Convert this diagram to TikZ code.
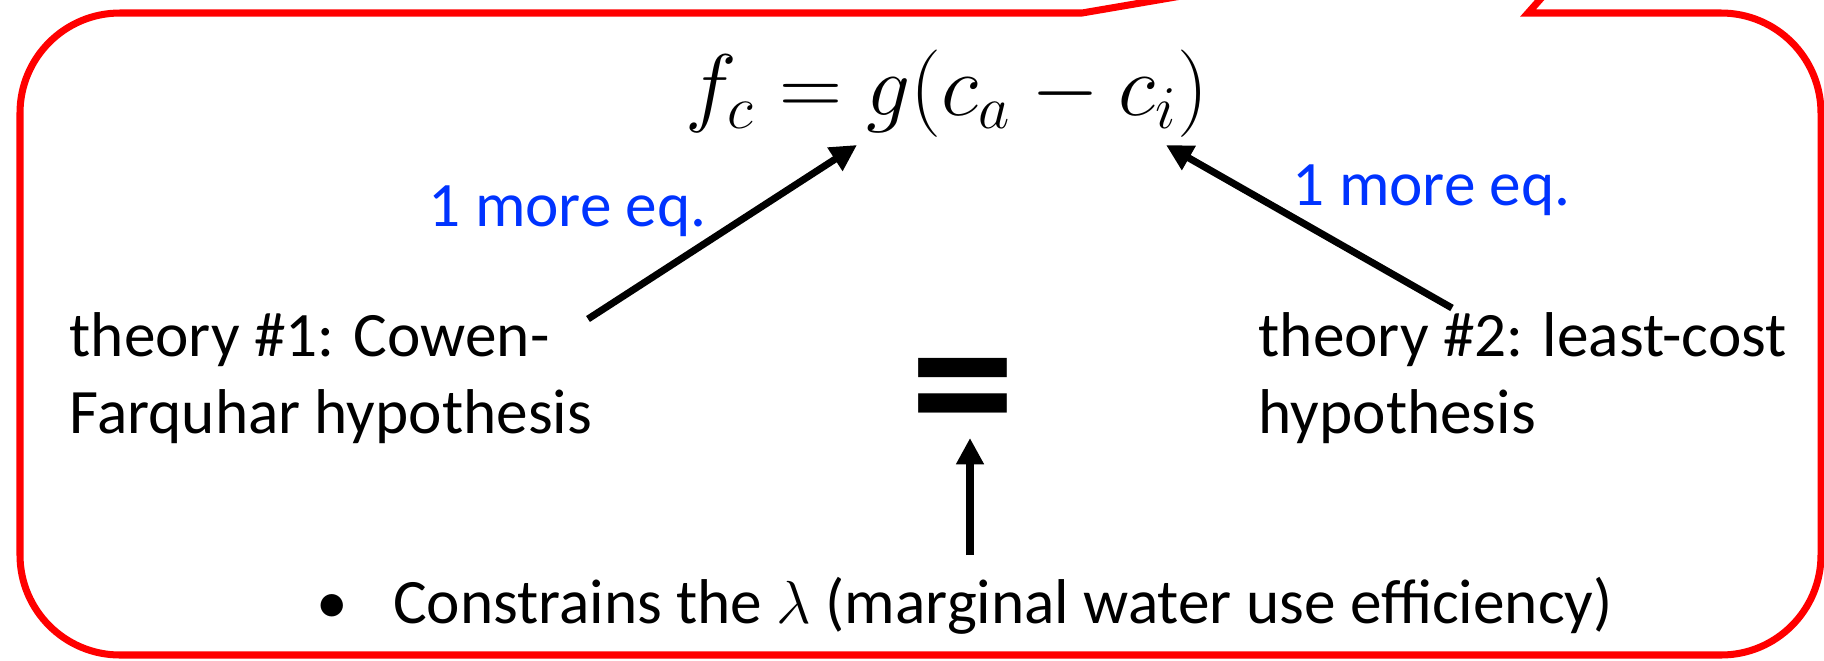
\documentclass[tikz,border=0pt]{standalone}
\usepackage{fontspec}
\setmainfont{Carlito}
\usepackage{xcolor}
\usetikzlibrary{arrows.meta}

\definecolor{eqblue}{RGB}{0,51,255}

\begin{document}
\begin{tikzpicture}[
  font=\fontsize{18}{21.8}\selectfont,
  callout/.style={draw=red, line width=2pt},
  theory/.style={align=left, inner sep=0pt, anchor=base west},
  note/.style={text=eqblue, inner sep=0pt, anchor=base west},
  arr/.style={-{Triangle[length=7.5pt, width=7.5pt]}, line width=2pt},
]
  \useasboundingbox (0,0) rectangle (18.24,6.60);

  % Callout frame with pointer running off the top
  \draw[callout] (10.82,6.47) -- (1.20,6.47)
    arc[start angle=90, end angle=180, radius=1] -- (0.20,1.05)
    arc[start angle=180, end angle=270, radius=1] -- (17.21,0.05)
    arc[start angle=270, end angle=360, radius=1] -- (18.21,5.47)
    arc[start angle=0, end angle=90, radius=1] -- (15.28,6.47)
    -- (16.08,7.37) -- cycle;

  % Equation and theories
  \node[anchor=base, inner sep=0pt, font=\fontsize{23}{27}\selectfont] (fc) at (9.47,5.45) {$f_c = g(c_a - c_i)$};
  \node[theory] (cf) at (0.69,2.27) {theory \#1: Cowen-\\Farquhar hypothesis};
  \node[theory] (lc) at (12.58,2.27) {theory \#2: least-cost\\hypothesis};
  \node[note] (n1) at (4.28,4.34) {1 more eq.};
  \node[note] (n2) at (12.92,4.55) {1 more eq.};
  \node[inner sep=0pt, font=\fontsize{60}{70}\selectfont\bfseries] (same) at (9.63,2.55) {=};
  \node[inner sep=0pt, anchor=base west] (lam) at (3.16,0.37) {\textbullet\hspace{0.45cm}Constrains the $\lambda$ (marginal water use efficiency)};

  % Arrow ends
  \coordinate (cfa) at (5.88,3.41);
  \coordinate (fcl) at (8.57,5.15);
  \coordinate (lca) at (14.52,3.52);
  \coordinate (fcr) at (11.66,5.15);
  \coordinate (lamt) at (9.70,1.05);
  \coordinate (samb) at (9.70,2.22);

  \draw[arr] (cfa) -- (fcl);
  \draw[arr] (lca) -- (fcr);
  \draw[arr] (lamt) -- (samb);
\end{tikzpicture}
\end{document}
